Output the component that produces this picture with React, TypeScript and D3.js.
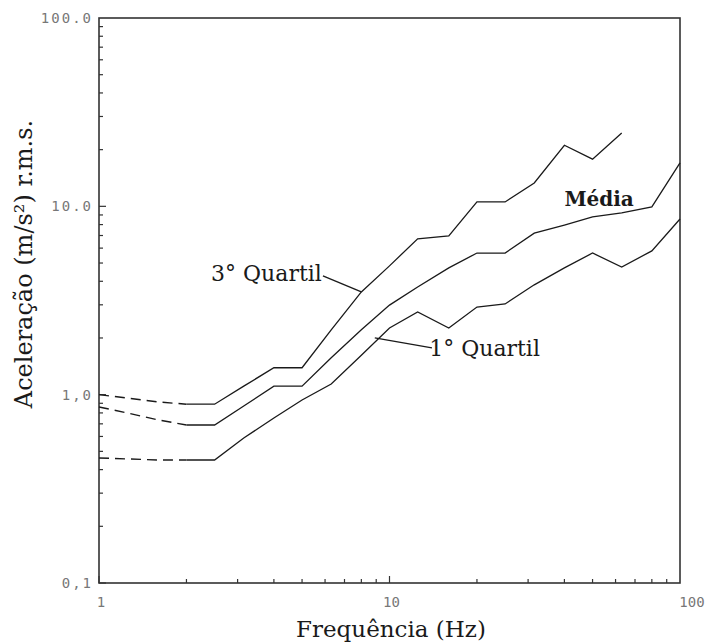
import * as d3 from 'd3';
import React, { useEffect, useRef } from 'react';

// 1/3 octave band centre frequencies (Hz)
const freqs = [1, 1.25, 1.6, 2, 2.5, 3.15, 4, 5, 6.3, 8, 10, 12.5, 16, 20, 25, 31.5, 40, 50, 63, 80, 100];

// acceleration r.m.s. (m/s2)
const quartil3 = [1.0, 0.96, 0.915, 0.89, 0.89, 1.11, 1.39, 1.39, 2.21, 3.51, 4.83, 6.72, 6.96, 10.55, 10.55, 13.3, 21.1, 17.8, 24.5];
const media = [0.86, 0.8, 0.734, 0.69, 0.69, 0.87, 1.11, 1.11, 1.57, 2.21, 2.99, 3.73, 4.71, 5.65, 5.65, 7.21, 7.95, 8.78, 9.22, 9.93, 17.0];
const quartil1 = [0.461, 0.456, 0.45, 0.45, 0.45, 0.589, 0.752, 0.937, 1.14, 1.62, 2.26, 2.75, 2.26, 2.92, 3.03, 3.83, 4.71, 5.65, 4.76, 5.8, 8.56];

// the first points (below 2 Hz) are drawn dashed
const dashedUpTo = 2;

const yTicks = [0.1, 1, 10, 100];
const yTickLabels = ['0,1', '1,0', '10.0', '100.0'];
const xTicks = [1, 10, 100];
const xTickLabels = ['1', '10', '100'];

const width = 705;
const height = 644;

export default function App() {
  const ref = useRef<SVGSVGElement>(null);

  useEffect(() => {
    const svg = d3.select(ref.current);
    svg.selectAll('*').remove();

    const left = 99;
    const right = 680;
    const top = 18;
    const bottom = 583;

    const x = d3.scaleLog().domain([1, 100]).range([left, right]);
    const y = d3.scaleLog().domain([0.1, 100]).range([bottom, top]);

    const ink = '#1a1a1a';

    // frame
    svg
      .append('rect')
      .attr('x', left)
      .attr('y', top)
      .attr('width', right - left)
      .attr('height', bottom - top)
      .attr('fill', 'none')
      .attr('stroke', '#333')
      .attr('stroke-width', 1.6);

    // y ticks (inside, minor + major)
    const yMinor: number[] = [];
    [0.1, 1, 10].forEach((d) => {
      for (let k = 1; k <= 9; k++) yMinor.push(d * k);
    });
    svg
      .append('g')
      .selectAll('line')
      .data(yMinor)
      .enter()
      .append('line')
      .attr('x1', left)
      .attr('x2', (d) => (yTicks.indexOf(d) >= 0 ? left + 7 : left + 4))
      .attr('y1', (d) => y(d))
      .attr('y2', (d) => y(d))
      .attr('stroke', '#333')
      .attr('stroke-width', 1.2);

    // x ticks (inside)
    const xMinor: number[] = [];
    [1, 10].forEach((d) => {
      for (let k = 1; k <= 9; k++) xMinor.push(d * k);
    });
    svg
      .append('g')
      .selectAll('line')
      .data(xMinor)
      .enter()
      .append('line')
      .attr('x1', (d) => x(d))
      .attr('x2', (d) => x(d))
      .attr('y1', bottom)
      .attr('y2', (d) => (xTicks.indexOf(d) >= 0 ? bottom - 7 : bottom - 4))
      .attr('stroke', '#333')
      .attr('stroke-width', 1.2);

    // tick labels
    svg
      .append('g')
      .selectAll('text')
      .data(yTicks)
      .enter()
      .append('text')
      .attr('x', left - 6)
      .attr('y', (d) => y(d) + 5)
      .attr('text-anchor', 'end')
      .attr('font-family', 'DejaVu Sans Mono')
      .attr('font-size', 14)
      .attr('letter-spacing', 2)
      .attr('fill', '#777')
      .text((d, i) => yTickLabels[i]);

    svg
      .append('g')
      .selectAll('text')
      .data(xTicks)
      .enter()
      .append('text')
      .attr('x', (d, i) => x(d) + (i === 0 ? 2 : i === 1 ? 2 : 12))
      .attr('y', bottom + 24)
      .attr('text-anchor', 'middle')
      .attr('font-family', 'DejaVu Sans Mono')
      .attr('font-size', 14)
      .attr('fill', '#777')
      .text((d, i) => xTickLabels[i]);

    // axis titles
    svg
      .append('text')
      .attr('x', 391)
      .attr('y', 637)
      .attr('text-anchor', 'middle')
      .attr('font-family', 'DejaVu Serif')
      .attr('font-size', 23)
      .attr('fill', ink)
      .text('Frequência (Hz)');

    svg
      .append('text')
      .attr('transform', 'translate(32,264) rotate(-90)')
      .attr('text-anchor', 'middle')
      .attr('font-family', 'DejaVu Serif')
      .attr('font-size', 24)
      .attr('fill', ink)
      .text('Aceleração (m/s²) r.m.s.');

    // series
    const line = d3
      .line<[number, number]>()
      .x((d) => x(d[0]))
      .y((d) => y(d[1]));

    [quartil3, media, quartil1].forEach((vals) => {
      const pts: [number, number][] = vals.map((v, i) => [freqs[i], v]);
      const dashed = pts.filter((p) => p[0] <= dashedUpTo);
      const solid = pts.filter((p) => p[0] >= dashedUpTo);
      svg
        .append('path')
        .attr('d', line(dashed))
        .attr('fill', 'none')
        .attr('stroke', ink)
        .attr('stroke-width', 1.4)
        .attr('stroke-dasharray', '10,6');
      svg
        .append('path')
        .attr('d', line(solid))
        .attr('fill', 'none')
        .attr('stroke', ink)
        .attr('stroke-width', 1.3);
    });

    // annotations
    const leaders: [number, number, number, number][] = [
      [5.9, 4.27, 8, 3.51],
      [8.9, 2.0, 14.0, 1.77],
    ];
    leaders.forEach((l) => {
      svg
        .append('line')
        .attr('x1', x(l[0]))
        .attr('y1', y(l[1]))
        .attr('x2', x(l[2]))
        .attr('y2', y(l[3]))
        .attr('stroke', ink)
        .attr('stroke-width', 1.3);
    });

    const labels: [string, number, number, string, string, number][] = [
      ['3° Quartil', 5.85, 4.0, 'end', 'normal', 22],
      ['1° Quartil', 13.7, 1.6, 'start', 'normal', 22],
      ['Média', 40, 10.1, 'start', 'bold', 20],
    ];
    labels.forEach((t) => {
      svg
        .append('text')
        .attr('x', x(t[1]))
        .attr('y', y(t[2]))
        .attr('text-anchor', t[3])
        .attr('font-family', 'DejaVu Serif')
        .attr('font-size', t[5])
        .attr('font-weight', t[4])
        .attr('fill', ink)
        .text(t[0]);
    });
  }, []);

  return (
    <svg
      ref={ref}
      width={width}
      height={height}
      style={{ position: 'absolute', left: 0, top: 0, background: '#fff' }}
    />
  );
}
